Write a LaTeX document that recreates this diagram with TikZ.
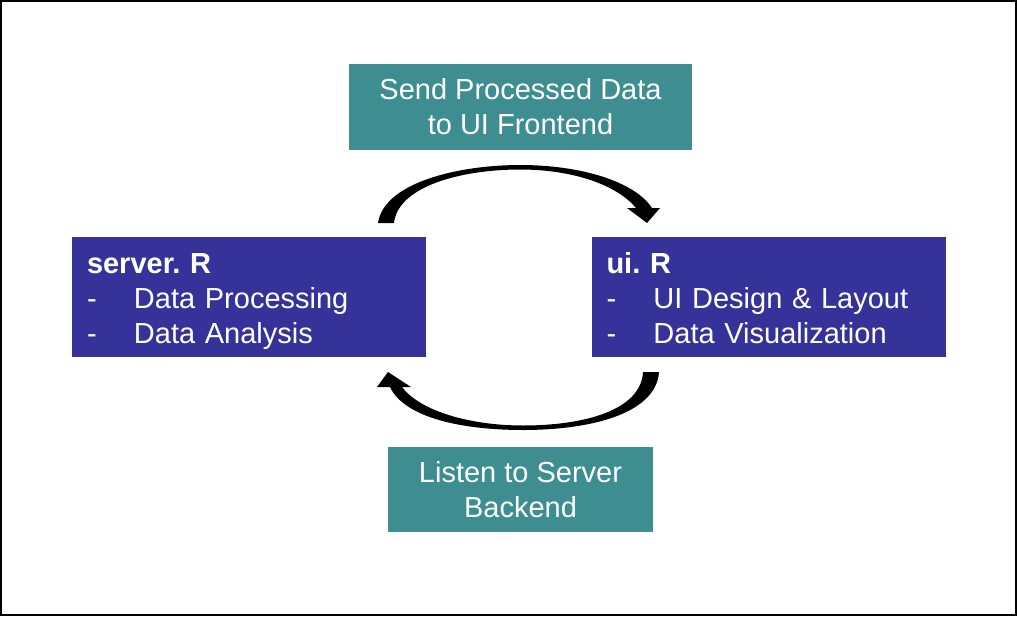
\documentclass[tikz,border=0pt]{standalone}
\usepackage{fontspec}
\setmainfont{Liberation Sans}
\frenchspacing
\definecolor{tealbox}{HTML}{3D8D91}
\definecolor{bluebox}{HTML}{35339A}
\tikzset{
  tealnode/.style={fill=tealbox, text=white, align=center, inner sep=0pt, font=\fontsize{29}{35}\selectfont},
  bluenode/.style={fill=bluebox, text=white, align=left, inner xsep=15pt, inner ysep=0pt, minimum height=120pt, text width=324pt, font=\fontsize{29}{35}\selectfont},
  bigarrow/.style={fill=black, draw=none}
}
\newcommand{\bul}[1]{\makebox[47pt][l]{-}#1\strut}
\newcommand{\toprule}{\rule{0pt}{33.5pt}\strut}
\begin{document}
\begin{tikzpicture}[x=1pt,y=-1pt]
\useasboundingbox (0,0) rectangle (1017,616);
\draw[line width=2pt] (1,1) rectangle (1016,615);

\node[tealnode, minimum width=343pt, minimum height=86pt] (send) at (520.5,107) {Send Processed Data\\to UI Frontend};
\node[tealnode, minimum width=265pt, minimum height=85pt] (listen) at (520.5,489.5) {Listen to Server\\Backend};

\node[bluenode] (server) at (249,297) {\toprule\textbf{server. R}\\\bul{Data Processing}\\\bul{Data Analysis}};
\node[bluenode] (ui) at (768.5,297) {\toprule\textbf{ui. R}\\\bul{UI Design \& Layout}\\\bul{Data Visualization}};

% top curved arrow: server -> ui
\fill[bigarrow] (378,223) .. controls (384,182) and (460,165) .. (520,165)
  .. controls (582,165) and (635,182) .. (652,208)
  -- (660,208) -- (647,223) -- (627,208) -- (636,208)
  .. controls (618,186) and (575,169.5) .. (520,169.5)
  .. controls (462,169.5) and (398,186) .. (394,223) -- cycle;

% bottom curved arrow: ui -> server
\fill[bigarrow] (659,372) .. controls (656,414) and (590,430) .. (523,430)
  .. controls (460,430) and (404,417) .. (390,387)
  -- (377,387) -- (388,372) -- (411,387) -- (402,387)
  .. controls (420,411) and (470,425.5) .. (523,425.5)
  .. controls (585,425.5) and (641,410) .. (643,372) -- cycle;
\end{tikzpicture}
\end{document}
